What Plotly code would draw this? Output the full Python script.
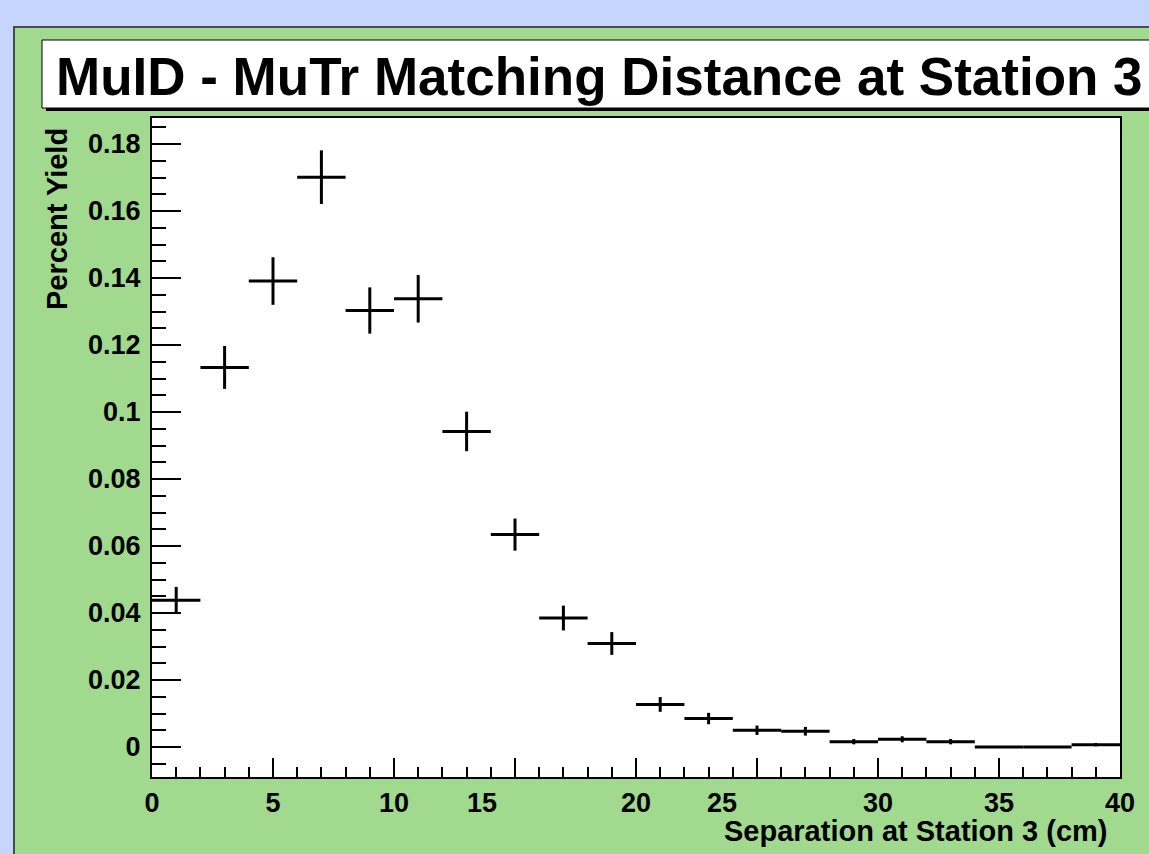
import plotly.graph_objects as go

# ---- data ----
bin_centers = [1, 3, 5, 7, 9, 11, 13, 15, 17, 19, 21, 23, 25, 27, 29, 31, 33, 35, 37, 39]
bin_half_width = [1] * 20
percent_yield = [0.0438, 0.1133, 0.1391, 0.1701, 0.1303, 0.1338, 0.0942, 0.0634, 0.0385, 0.0309,
                 0.0127, 0.0085, 0.0050, 0.0047, 0.0016, 0.0023, 0.0016, 0.0000, 0.0000, 0.0007]
yield_err = [0.0040, 0.0064, 0.0071, 0.0080, 0.0069, 0.0071, 0.0059, 0.0048, 0.0037, 0.0034,
             0.0022, 0.0017, 0.0014, 0.0013, 0.0008, 0.0009, 0.0008, 0.0000, 0.0000, 0.0005]

x_tick_vals = [0, 5, 10, 15, 20, 25, 30, 35, 40]
x_tick_text = ["0", "5", "10", "", "20", "", "30", "35", "40"]
x_shifted_labels = ["15", "25"]
x_shifted_pos = [13.62, 23.55]
y_tick_vals = [0, 0.02, 0.04, 0.06, 0.08, 0.10, 0.12, 0.14, 0.16, 0.18]
y_tick_text = ["0", "0.02", "0.04", "0.06", "0.08", "0.1", "0.12", "0.14", "0.16", "0.18"]

title_text = "MuID - MuTr Matching Distance at Station 3"
x_title = "Separation at Station 3 (cm)"
y_title = "Percent Yield"

# ---- layout geometry (pixels) ----
W, H = 1149, 854
PL, PR, PT, PB = 152, 1120, 118, 777

def fx(p):
    return (p - PL) / (PR - PL)

def fy(p):
    return (PB - p) / (PB - PT)

BLUE = "#c6d5fc"
GREEN = "#a1da8e"
FONT = "Liberation Sans, Arial, Helvetica, sans-serif"

fig = go.Figure()
fig.add_trace(go.Scatter(
    x=bin_centers, y=percent_yield, mode="markers",
    marker=dict(size=0.1, color="black", opacity=0),
    error_x=dict(type="data", array=bin_half_width, visible=True, color="black", thickness=3, width=0),
    error_y=dict(type="data", array=yield_err, visible=True, color="black", thickness=3, width=0),
    showlegend=False, hoverinfo="x+y",
))

shapes = [
    # green pad
    dict(type="rect", xref="paper", yref="paper", x0=fx(14), x1=fx(1200), y0=fy(27), y1=fy(900),
         fillcolor=GREEN, line=dict(color="#4a4a4a", width=2), layer="below"),
    # plot frame background
    dict(type="rect", xref="paper", yref="paper", x0=0, x1=1, y0=0, y1=1,
         fillcolor="white", line=dict(width=0), layer="below"),
    # title box shadow
    dict(type="rect", xref="paper", yref="paper", x0=fx(46), x1=fx(1200), y0=fy(43), y1=fy(111),
         fillcolor="black", line=dict(width=0), layer="above"),
    # title box
    dict(type="rect", xref="paper", yref="paper", x0=fx(42), x1=fx(1200), y0=fy(40), y1=fy(108),
         fillcolor="white", line=dict(color="black", width=1), layer="above"),
]

annotations = [
    dict(text=title_text, xref="paper", yref="paper", x=fx(54), y=fy(76), xanchor="left", yanchor="middle",
         showarrow=False, font=dict(family=FONT, size=53, color="black", weight="bold")),
    dict(text=x_title, xref="paper", yref="paper", x=fx(1110), y=fy(831), xanchor="right", yanchor="middle",
         showarrow=False, font=dict(family=FONT, size=29, color="black", weight="bold")),
    dict(text=y_title, xref="paper", yref="paper", x=fx(57), y=fy(219), xanchor="center", yanchor="middle",
         textangle=-90, showarrow=False, font=dict(family=FONT, size=29, color="black", weight="bold")),
]
for lab, pos in zip(x_shifted_labels, x_shifted_pos):
    annotations.append(dict(text=lab, xref="x", yref="paper", x=pos, y=fy(803), xanchor="center",
                            yanchor="middle", showarrow=False,
                            font=dict(family=FONT, size=27, color="black", weight="bold")))

fig.update_layout(
    width=W, height=H,
    margin=dict(l=PL, r=W - PR, t=PT, b=H - PB, pad=0),
    paper_bgcolor=BLUE, plot_bgcolor="white",
    shapes=shapes, annotations=annotations,
    showlegend=False,
    font=dict(family=FONT, color="black"),
)
fig.update_xaxes(
    range=[0, 40], showgrid=False, zeroline=False,
    showline=True, linecolor="black", linewidth=2, mirror=True,
    ticks="inside", ticklen=19, tickwidth=2, tickcolor="black",
    tickvals=x_tick_vals, ticktext=x_tick_text, ticklabelstandoff=1,
    tickfont=dict(family=FONT, size=27, color="black", weight="bold"),
    minor=dict(ticks="inside", ticklen=10, tickwidth=2, tickcolor="black", dtick=1, showgrid=False),
)
fig.update_yaxes(
    range=[-0.008955, 0.18776], showgrid=False, zeroline=False,
    showline=True, linecolor="black", linewidth=2, mirror=True,
    ticks="inside", ticklen=29, tickwidth=2, tickcolor="black",
    tickvals=y_tick_vals, ticktext=y_tick_text, ticklabelstandoff=4,
    tickfont=dict(family=FONT, size=27, color="black", weight="bold"),
    minor=dict(ticks="inside", ticklen=14, tickwidth=2, tickcolor="black", dtick=0.005, tick0=0, showgrid=False),
)

fig.write_html("out.html", config={"displayModeBar": False},
               post_script="document.body.style.margin='0';")
